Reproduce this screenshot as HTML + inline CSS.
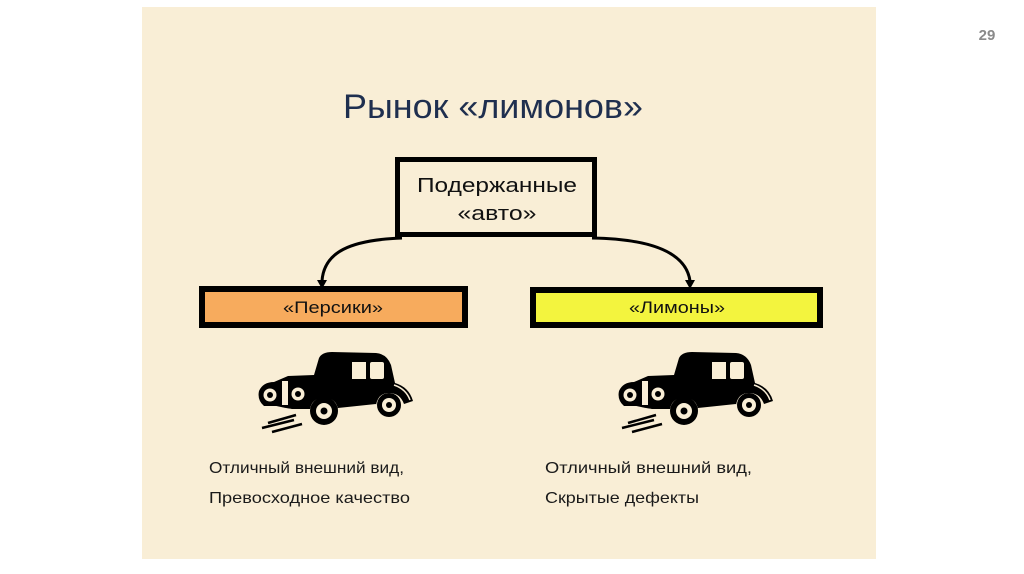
<!DOCTYPE html>
<html>
<head>
<meta charset="utf-8">
<style>
  html,body{margin:0;padding:0;background:#fff;}
  body{width:1024px;height:574px;overflow:hidden;}
  svg{display:block;}
</style>
</head>
<body>
<svg width="1024" height="574" viewBox="0 0 1024 574" xmlns="http://www.w3.org/2000/svg">
  <defs>
    <g id="car">
      <!-- speed streaks -->
      <path d="M16 80 L44 72 M10 85 L42 77 M20 89 L50 81" stroke="#000" stroke-width="2.5" fill="none"/>
      <!-- body silhouette -->
      <path d="M62 32 L67 15 Q70 9 80 9 L124 10 Q135 11 139 22 L143 40 Q157 44 161 58 L152 61 Q148 50 137 50 Q126 50 124 62 L86 66 Q84 55 72 55 Q60 55 58 66 L40 66 Q30 65 24 63 L12 63 Q5 57 7 48 Q11 39 22 39 L36 33 Z" fill="#000"/>
      <!-- windows -->
      <rect x="100" y="19" width="14" height="17" fill="#f9eed6"/>
      <rect x="118" y="19" width="14" height="17" rx="2" fill="#f9eed6"/>
      <!-- grille -->
      <rect x="30" y="38" width="6" height="24" fill="#f9eed6"/>
      <!-- headlights -->
      <circle cx="18" cy="52" r="6.5" fill="#f9eed6"/>
      <circle cx="18" cy="52" r="3" fill="#000"/>
      <circle cx="46" cy="51" r="6.5" fill="#f9eed6"/>
      <circle cx="46" cy="51" r="3" fill="#000"/>
      <!-- running board line -->
      <path d="M24 64 Q50 70 60 67 M86 66 L124 62" stroke="#f9eed6" stroke-width="2" fill="none"/>
      <path d="M142 42 Q154 46 158 57" stroke="#f9eed6" stroke-width="1.5" fill="none"/>
      <!-- wheels -->
      <circle cx="72" cy="68" r="14" fill="#000"/>
      <circle cx="72" cy="68" r="8" fill="#f9eed6"/>
      <circle cx="72" cy="68" r="3.5" fill="#000"/>
      <circle cx="137" cy="62" r="12" fill="#000"/>
      <circle cx="137" cy="62" r="7" fill="#f9eed6"/>
      <circle cx="137" cy="62" r="3" fill="#000"/>
    </g>
  </defs>

  <!-- slide background -->
  <rect x="142" y="7" width="734" height="552" fill="#f9eed6"/>

  <!-- page number -->
  <text x="987" y="40" font-family="Liberation Sans, sans-serif" font-size="15" font-weight="bold" fill="#8a8a8a" text-anchor="middle">29</text>

  <!-- title -->
  <text x="343" y="118" font-family="Liberation Sans, sans-serif" font-size="34" fill="#1f2f4f" textLength="300" lengthAdjust="spacingAndGlyphs">Рынок «лимонов»</text>

  <!-- top box -->
  <rect x="397.5" y="159.5" width="197" height="75" fill="#f9eed6" stroke="#000" stroke-width="5"/>
  <text x="497" y="192" font-family="Liberation Sans, sans-serif" font-size="20" fill="#111" text-anchor="middle" textLength="160" lengthAdjust="spacingAndGlyphs">Подержанные</text>
  <text x="497" y="220" font-family="Liberation Sans, sans-serif" font-size="20" fill="#111" text-anchor="middle" textLength="79" lengthAdjust="spacingAndGlyphs">«авто»</text>

  <!-- connectors -->
  <path d="M402 238 C350 240, 324 252, 322 281" stroke="#000" stroke-width="3" fill="none"/>
  <polygon points="317,280 327,280 322,289" fill="#000"/>
  <path d="M592 238 C650 239, 686 252, 690 281" stroke="#000" stroke-width="3" fill="none"/>
  <polygon points="685,280 695,280 690,289" fill="#000"/>

  <!-- orange box -->
  <rect x="202" y="289" width="263" height="36" fill="#f7ab5d" stroke="#000" stroke-width="6"/>
  <text x="333" y="313" font-family="Liberation Sans, sans-serif" font-size="17" fill="#111" text-anchor="middle" textLength="100" lengthAdjust="spacingAndGlyphs">«Персики»</text>

  <!-- yellow box -->
  <rect x="533" y="290" width="287" height="35" fill="#f3f43e" stroke="#000" stroke-width="6"/>
  <text x="677" y="313" font-family="Liberation Sans, sans-serif" font-size="17" fill="#111" text-anchor="middle" textLength="96" lengthAdjust="spacingAndGlyphs">«Лимоны»</text>

  <!-- cars -->
  <use href="#car" x="252" y="343"/>
  <use href="#car" x="612" y="343"/>

  <!-- captions -->
  <g font-family="Liberation Sans, sans-serif" font-size="16" fill="#1a1a1a">
    <text x="209" y="473" textLength="195" lengthAdjust="spacingAndGlyphs">Отличный внешний вид,</text>
    <text x="209" y="503" textLength="201" lengthAdjust="spacingAndGlyphs">Превосходное качество</text>
    <text x="545" y="473" textLength="207" lengthAdjust="spacingAndGlyphs">Отличный внешний вид,</text>
    <text x="545" y="503" textLength="154" lengthAdjust="spacingAndGlyphs">Скрытые дефекты</text>
  </g>
</svg>
</body>
</html>
